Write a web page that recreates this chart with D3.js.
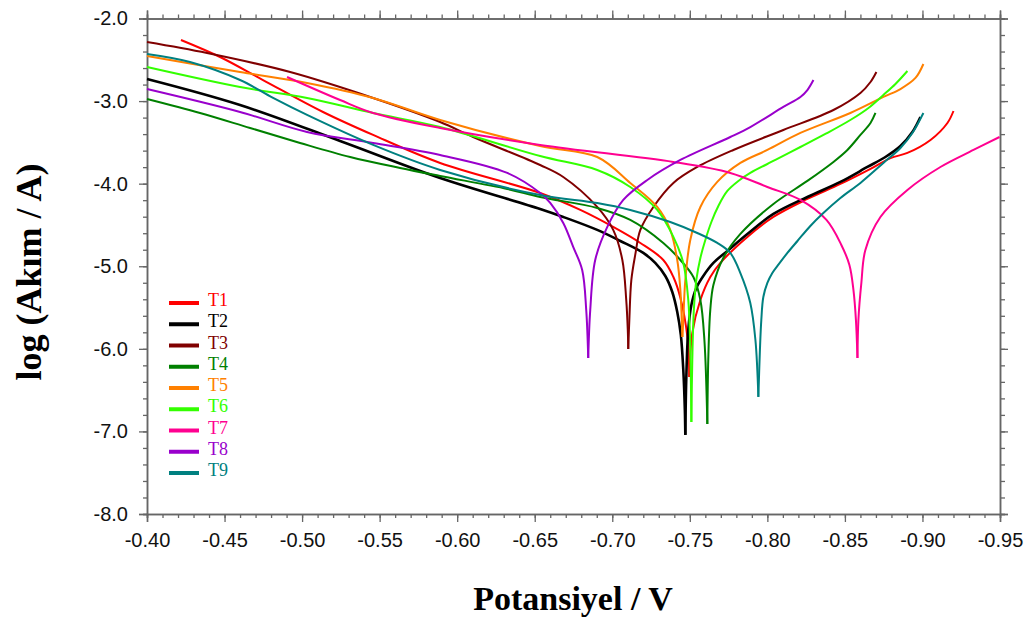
<!DOCTYPE html>
<html>
<head>
<meta charset="utf-8">
<script src="https://cdn.jsdelivr.net/npm/d3@7"></script>
<style>
  body { margin: 0; background: #fff; }
  svg { display: block; }
</style>
</head>
<body>
<div id="container"></div>
<script>
// curves: [potential V, log(I/A)]
let t1 = [[-0.4219,-2.260],[-0.4471,-2.466],[-0.4748,-2.745],[-0.5135,-3.132],[-0.5458,-3.410],[-0.5890,-3.749],[-0.6535,-4.113],[-0.6794,-4.318],[-0.7006,-4.524],[-0.7181,-4.718],[-0.7329,-4.924],[-0.7394,-5.130],[-0.7439,-5.380],[-0.7484,-5.850],[-0.7497,-6.340],
  [-0.7516,-5.808],[-0.7568,-5.408],[-0.7632,-5.130],[-0.7697,-4.960],[-0.7871,-4.645],[-0.8039,-4.403],[-0.8258,-4.185],[-0.8471,-4.003],[-0.8665,-3.820],[-0.8794,-3.690],[-0.8903,-3.628],[-0.9052,-3.471],[-0.9161,-3.265],[-0.9200,-3.120]];
let t2 = [[-0.4000,-2.732],[-0.4600,-3.047],[-0.5245,-3.483],[-0.5890,-3.931],[-0.6535,-4.306],[-0.6684,-4.403],[-0.6903,-4.560],[-0.7052,-4.694],[-0.7200,-4.839],[-0.7277,-4.960],[-0.7342,-5.118],[-0.7387,-5.312],[-0.7419,-5.554],[-0.7442,-5.832],[-0.7458,-6.256],[-0.7468,-6.741],[-0.7471,-7.042],
  [-0.7477,-6.377],[-0.7490,-5.771],[-0.7510,-5.469],[-0.7542,-5.263],[-0.7587,-5.118],[-0.7652,-4.960],[-0.7742,-4.815],[-0.7871,-4.609],[-0.8039,-4.367],[-0.8258,-4.161],[-0.8471,-3.979],[-0.8645,-3.798],[-0.8761,-3.677],[-0.8858,-3.544],[-0.8935,-3.374],[-0.8987,-3.192]];
let t3 = [[-0.4000,-2.285],[-0.4387,-2.418],[-0.4923,-2.648],[-0.5458,-2.962],[-0.5890,-3.253],[-0.6103,-3.435],[-0.6535,-3.774],[-0.6684,-3.919],[-0.6903,-4.282],[-0.7006,-4.560],[-0.7065,-4.924],[-0.7090,-5.408],[-0.7100,-5.771],[-0.7103,-6.001],
  [-0.7110,-5.650],[-0.7123,-5.166],[-0.7148,-4.863],[-0.7181,-4.560],[-0.7265,-4.282],[-0.7394,-3.991],[-0.7548,-3.798],[-0.7781,-3.592],[-0.8103,-3.350],[-0.8426,-3.108],[-0.8600,-2.902],[-0.8665,-2.769],[-0.8703,-2.648]];
let t4 = [[-0.4000,-2.975],[-0.4342,-3.144],[-0.4665,-3.326],[-0.4987,-3.507],[-0.5310,-3.677],[-0.5632,-3.810],[-0.5890,-3.907],[-0.6323,-4.064],[-0.6535,-4.161],[-0.6903,-4.294],[-0.7116,-4.439],[-0.7329,-4.718],[-0.7439,-4.924],[-0.7523,-5.130],[-0.7568,-5.408],[-0.7594,-5.893],[-0.7613,-6.909],
  [-0.7619,-6.130],[-0.7632,-5.529],[-0.7652,-5.227],[-0.7716,-4.900],[-0.7826,-4.609],[-0.8039,-4.246],[-0.8258,-3.967],[-0.8426,-3.737],[-0.8516,-3.592],[-0.8600,-3.410],[-0.8665,-3.265],[-0.8697,-3.144]];
let t5 = [[-0.4000,-2.454],[-0.4600,-2.648],[-0.5032,-2.781],[-0.5458,-2.962],[-0.5890,-3.229],[-0.6535,-3.544],[-0.6903,-3.677],[-0.7116,-3.991],[-0.7290,-4.282],[-0.7374,-4.560],[-0.7419,-4.924],[-0.7439,-5.287],[-0.7448,-5.650],[-0.7452,-5.856],
  [-0.7458,-5.650],[-0.7471,-5.166],[-0.7503,-4.682],[-0.7568,-4.282],[-0.7677,-3.979],[-0.7826,-3.749],[-0.8000,-3.592],[-0.8213,-3.386],[-0.8535,-3.144],[-0.8748,-2.950],[-0.8858,-2.854],[-0.8955,-2.720],[-0.9006,-2.551]];
let t6 = [[-0.4000,-2.587],[-0.4600,-2.829],[-0.5032,-2.962],[-0.5458,-3.144],[-0.5890,-3.314],[-0.6535,-3.665],[-0.6903,-3.834],[-0.7116,-4.040],[-0.7290,-4.318],[-0.7394,-4.645],[-0.7458,-4.960],[-0.7490,-5.408],[-0.7503,-6.013],[-0.7510,-6.885],
  [-0.7516,-6.134],[-0.7526,-5.529],[-0.7542,-5.166],[-0.7568,-4.900],[-0.7600,-4.682],[-0.7639,-4.464],[-0.7684,-4.270],[-0.7742,-4.088],[-0.7813,-3.967],[-0.7890,-3.870],[-0.8052,-3.713],[-0.8213,-3.556],[-0.8374,-3.398],[-0.8535,-3.229],[-0.8652,-3.083],[-0.8748,-2.926],[-0.8826,-2.793],[-0.8903,-2.636]];
let t7 = [[-0.4903,-2.708],[-0.5245,-2.987],[-0.5458,-3.144],[-0.5890,-3.326],[-0.6535,-3.531],[-0.7394,-3.737],[-0.7761,-3.870],[-0.8000,-4.040],[-0.8213,-4.197],[-0.8381,-4.439],[-0.8477,-4.742],[-0.8529,-4.985],[-0.8555,-5.287],[-0.8571,-5.650],[-0.8581,-6.110],
  [-0.8587,-5.650],[-0.8606,-5.203],[-0.8632,-4.803],[-0.8729,-4.403],[-0.8903,-4.076],[-0.9116,-3.798],[-0.9329,-3.592],[-0.9497,-3.435]];
let t8 = [[-0.4000,-2.854],[-0.4600,-3.132],[-0.5032,-3.374],[-0.5458,-3.507],[-0.5890,-3.653],[-0.6323,-3.870],[-0.6535,-4.113],[-0.6600,-4.234],[-0.6684,-4.476],[-0.6748,-4.766],[-0.6806,-5.045],[-0.6832,-5.529],[-0.6845,-6.110],
  [-0.6858,-5.529],[-0.6890,-4.924],[-0.6968,-4.524],[-0.7071,-4.197],[-0.7226,-3.955],[-0.7439,-3.713],[-0.7761,-3.435],[-0.7890,-3.314],[-0.8103,-3.071],[-0.8213,-2.950],[-0.8258,-2.866],[-0.8297,-2.745]];
let t9 = [[-0.4000,-2.430],[-0.4277,-2.527],[-0.4600,-2.745],[-0.4813,-2.962],[-0.5032,-3.168],[-0.5458,-3.531],[-0.5890,-3.834],[-0.6535,-4.137],[-0.6903,-4.234],[-0.7116,-4.318],[-0.7374,-4.464],[-0.7548,-4.597],[-0.7677,-4.718],[-0.7761,-4.839],[-0.7826,-5.082],[-0.7890,-5.444],[-0.7923,-5.893],[-0.7942,-6.582],
  [-0.7952,-6.013],[-0.7961,-5.650],[-0.7974,-5.372],[-0.8000,-5.202],[-0.8032,-5.081],[-0.8065,-4.996],[-0.8129,-4.839],[-0.8194,-4.694],[-0.8277,-4.512],[-0.8361,-4.355],[-0.8471,-4.173],[-0.8600,-3.991],[-0.8748,-3.749],[-0.8858,-3.568],[-0.8935,-3.386],[-0.9006,-3.144]];

let names = ["T1","T2","T3","T4","T5","T6","T7","T8","T9"];
let series = [t1, t2, t3, t4, t5, t6, t7, t8, t9];
let colors = ["#ff0000","#000000","#800000","#008000","#ff8000","#33ff00","#ff0090","#9900cc","#008080"];

let xTicks = [-0.40,-0.45,-0.50,-0.55,-0.60,-0.65,-0.70,-0.75,-0.80,-0.85,-0.90,-0.95];
let yTicks = [-2.0,-3.0,-4.0,-5.0,-6.0,-7.0,-8.0];

let w = 1025;
let h = 619;
let plotLeft = 147, plotRight = 1000, plotTop = 18.5, plotBottom = 514;

let viz = d3.select("#container")
  .append("svg")
    .attr("width", w)
    .attr("height", h)
;

let xScale = d3.scaleLinear().domain([-0.40, -0.95]).range([plotLeft, plotRight]);
let yScale = d3.scaleLinear().domain([-2, -8]).range([plotTop, plotBottom]);

let xMinor = d3.range(0, 56).map(i => -0.40 - i * 0.01);
let yMinor = d3.range(0, 31).map(i => -2 - i * 0.2);

function styleAxis(g) {
  g.select(".domain").attr("stroke", "#666").attr("stroke-width", 1.5);
  g.selectAll(".tick line").attr("stroke", "#666").attr("stroke-width", 1.3);
  g.selectAll("text")
    .attr("font-family", "'Liberation Sans', Arial, sans-serif")
    .attr("font-size", 20)
    .attr("fill", "#111");
}

// minor ticks first, then major ticks with labels
function addAxis(axisFn, scale, minorVals, majorVals, transform, fmt, minorLen, majorLen, pad) {
  let gMin = viz.append("g").attr("transform", transform)
    .call(axisFn(scale).tickValues(minorVals).tickSize(minorLen).tickFormat(""));
  styleAxis(gMin);
  let ax = axisFn(scale).tickValues(majorVals).tickSize(majorLen).tickPadding(pad);
  ax.tickFormat(fmt || "");
  let gMaj = viz.append("g").attr("transform", transform).call(ax);
  styleAxis(gMaj);
  return gMaj;
}

addAxis(d3.axisBottom, xScale, xMinor, xTicks, "translate(0," + plotBottom + ")", d => d.toFixed(2), 4, 8, 11);
addAxis(d3.axisTop, xScale, xMinor, xTicks, "translate(0," + plotTop + ")", null, 4, 8, 3);
addAxis(d3.axisLeft, yScale, yMinor, yTicks, "translate(" + plotLeft + ",0)", d => d.toFixed(1), 4, 8, 11);
addAxis(d3.axisRight, yScale, yMinor, yTicks, "translate(" + plotRight + ",0)", null, 5, 8, 3);

// curves: split each at its lowest point so the spike stays sharp
let lineMaker = d3.line()
  .x(d => xScale(d[0]))
  .y(d => yScale(d[1]))
  .curve(d3.curveCatmullRom.alpha(0.5));

series.forEach(function(pts, i) {
  let k = d3.minIndex(pts, d => d[1]);
  [pts.slice(0, k + 1), pts.slice(k)].forEach(function(branch) {
    viz.append("path")
      .attr("d", lineMaker(branch))
      .attr("fill", "none")
      .attr("stroke", colors[i])
      .attr("stroke-width", i == 1 ? 2.6 : 2)
      .attr("stroke-linejoin", "round");
  });
});

// legend
let legend = viz.append("g");
names.forEach(function(n, i) {
  let ly = 303 + i * 21.25;
  legend.append("line")
    .attr("x1", 169).attr("x2", 199)
    .attr("y1", ly).attr("y2", ly)
    .attr("stroke", colors[i])
    .attr("stroke-width", 4);
  legend.append("text")
    .attr("x", 208).attr("y", ly + 3)
    .attr("font-family", "'Liberation Serif', 'Times New Roman', serif")
    .attr("font-size", 18)
    .attr("fill", colors[i])
    .text(n);
});

// axis titles
viz.append("text")
  .attr("x", 573).attr("y", 610)
  .attr("text-anchor", "middle")
  .attr("font-family", "'Liberation Serif', 'Times New Roman', serif")
  .attr("font-weight", "bold")
  .attr("font-size", 34)
  .text("Potansiyel / V");

viz.append("text")
  .attr("transform", "translate(41,272) rotate(-90)")
  .attr("text-anchor", "middle")
  .attr("font-family", "'Liberation Serif', 'Times New Roman', serif")
  .attr("font-weight", "bold")
  .attr("font-size", 36)
  .text("log (Akım / A)");
</script>
</body>
</html>
